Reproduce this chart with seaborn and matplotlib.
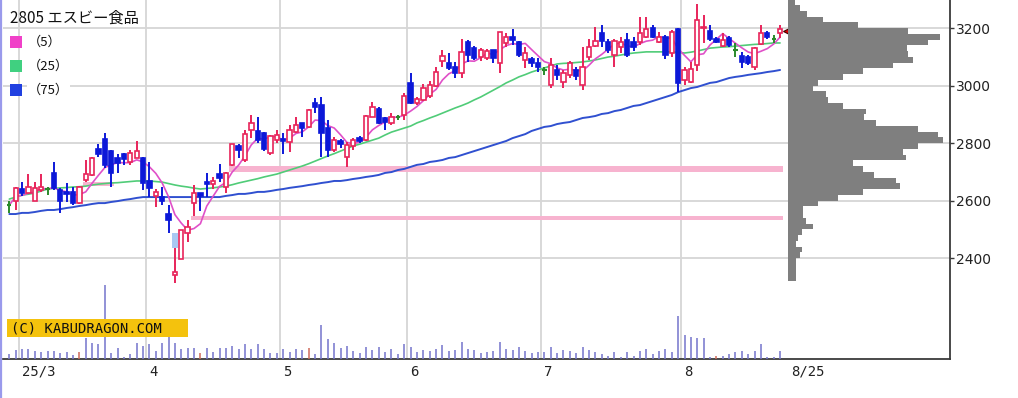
import numpy as np
import pandas as pd
import matplotlib
matplotlib.use("Agg")
import matplotlib.pyplot as plt
import seaborn as sns
from matplotlib.patches import Rectangle
from matplotlib.lines import Line2D
from matplotlib.transforms import ScaledTranslation

# ---------------- data ----------------
title = "2805 エスビー食品"
legend_labels = ["（5）", "（25）", "（75）"]
month_labels = ["25/3", "4", "5", "6", "7", "8"]
month_start_idx = [2, 22, 43, 63, 84, 106]
last_label = "8/25"
price_ticks = [2400, 2600, 2800, 3000, 3200]

opens = [2584, 2598, 2640, 2626, 2598, 2637, 2640, 2696, 2637, 2630,
         2630, 2591, 2671, 2689, 2779, 2814, 2772, 2748, 2762, 2734,
         2748, 2748, 2668, 2616, 2612, 2553, 2340, 2397, 2487, 2591,
         2626, 2664, 2657, 2692, 2647, 2722, 2790, 2741, 2845, 2842,
         2835, 2765, 2810, 2814, 2804, 2838, 2869, 2856, 2939, 2932,
         2852, 2776, 2807, 2751, 2790, 2817, 2810, 2890, 2918, 2887,
         2869, 2890, 2897, 3009, 2939, 2950, 2963, 2998, 3085, 3078,
         3064, 3043, 3151, 3130, 3099, 3096, 3123, 3078, 3148, 3169,
         3151, 3089, 3092, 3078, 3054, 3002, 3054, 3012, 3037, 3054,
         3002, 3099, 3137, 3183, 3151, 3106, 3134, 3158, 3151, 3151,
         3169, 3200, 3151, 3169, 3113, 3197, 3019, 3012, 3071, 3200,
         3190, 3162, 3137, 3165, 3123, 3103, 3099, 3064, 3144, 3183,
         3162, 3183]
highs = [2600, 2647, 2664, 2692, 2664, 2692, 2647, 2734, 2644, 2661,
         2647, 2650, 2741, 2751, 2797, 2835, 2776, 2762, 2765, 2776,
         2807, 2751, 2734, 2640, 2647, 2584, 2435, 2497, 2532, 2654,
         2626, 2696, 2682, 2727, 2699, 2797, 2797, 2845, 2897, 2890,
         2838, 2828, 2845, 2835, 2862, 2890, 2869, 2918, 2957, 2960,
         2880, 2821, 2814, 2804, 2817, 2824, 2897, 2943, 2925, 2890,
         2904, 2897, 2974, 3043, 2960, 3005, 3016, 3064, 3123, 3113,
         3082, 3162, 3158, 3137, 3130, 3127, 3123, 3186, 3183, 3197,
         3155, 3134, 3099, 3096, 3064, 3096, 3071, 3054, 3085, 3064,
         3134, 3162, 3204, 3210, 3162, 3162, 3169, 3183, 3169, 3238,
         3238, 3210, 3186, 3176, 3193, 3200, 3064, 3082, 3283, 3245,
         3210, 3169, 3183, 3172, 3148, 3116, 3106, 3134, 3210, 3190,
         3176, 3210]
lows = [2557, 2567, 2616, 2626, 2598, 2630, 2619, 2637, 2557, 2595,
        2584, 2588, 2664, 2686, 2751, 2713, 2648, 2696, 2724, 2724,
        2748, 2637, 2612, 2577, 2584, 2486, 2313, 2397, 2456, 2546,
        2564, 2612, 2640, 2664, 2626, 2720, 2748, 2734, 2817, 2800,
        2772, 2758, 2800, 2762, 2769, 2835, 2821, 2852, 2904, 2751,
        2751, 2769, 2783, 2717, 2776, 2800, 2807, 2890, 2866, 2845,
        2862, 2880, 2880, 2936, 2932, 2946, 2956, 2995, 3064, 3054,
        3026, 3026, 3082, 3089, 3085, 3089, 3078, 3043, 3134, 3141,
        3099, 3061, 3064, 3047, 3037, 2991, 3019, 2991, 3026, 3019,
        2984, 3089, 3134, 3134, 3113, 3064, 3113, 3099, 3120, 3141,
        3165, 3165, 3148, 3092, 3099, 2977, 3002, 3009, 3050, 3148,
        3155, 3148, 3134, 3134, 3099, 3061, 3071, 3054, 3141, 3162,
        3148, 3165]
closes = [2584, 2644, 2626, 2647, 2644, 2647, 2640, 2644, 2598, 2623,
          2591, 2647, 2692, 2748, 2762, 2724, 2696, 2730, 2744, 2765,
          2772, 2661, 2644, 2630, 2598, 2532, 2350, 2497, 2508, 2626,
          2616, 2657, 2668, 2678, 2696, 2797, 2776, 2831, 2869, 2810,
          2779, 2824, 2828, 2807, 2845, 2862, 2852, 2915, 2925, 2835,
          2776, 2810, 2797, 2793, 2810, 2807, 2894, 2925, 2869, 2873,
          2890, 2890, 2963, 2939, 2953, 2991, 3002, 3047, 3103, 3061,
          3043, 3116, 3106, 3096, 3123, 3120, 3096, 3186, 3169, 3158,
          3106, 3113, 3078, 3064, 3054, 3071, 3037, 3043, 3078, 3033,
          3064, 3134, 3155, 3155, 3123, 3155, 3151, 3106, 3134, 3183,
          3197, 3169, 3169, 3106, 3186, 3009, 3054, 3057, 3228, 3204,
          3162, 3151, 3158, 3141, 3123, 3082, 3078, 3130, 3183, 3169,
          3162, 3197]
volume = [5, 9, 10, 10, 8, 7, 8, 8, 6, 7,
          4, 7, 21, 16, 15, 74, 6, 11, 2, 5,
          16, 13, 15, 8, 16, 22, 16, 10, 11, 11,
          6, 11, 7, 11, 11, 13, 10, 15, 10, 15,
          10, 6, 6, 10, 7, 10, 9, 11, 5, 34,
          20, 16, 11, 13, 8, 6, 12, 9, 12, 7,
          10, 5, 15, 12, 7, 9, 8, 10, 14, 8,
          9, 17, 10, 9, 6, 7, 8, 17, 10, 9,
          12, 8, 6, 7, 7, 12, 6, 9, 8, 6,
          12, 9, 7, 5, 3, 7, 2, 7, 3, 8,
          10, 5, 8, 10, 7, 43, 24, 22, 21, 21,
          2, 3, 3, 5, 7, 8, 5, 8, 15, 2,
          2, 8]
red_volume_idx = [11, 30, 47, 111]
ma25 = [2605, 2612, 2619, 2622, 2626, 2633, 2640, 2642, 2644, 2645,
        2647, 2648, 2650, 2654, 2657, 2659, 2661, 2662, 2664, 2666,
        2668, 2668, 2668, 2666, 2664, 2659, 2654, 2650, 2647, 2643,
        2640, 2642, 2644, 2647, 2650, 2655, 2661, 2666, 2671, 2676,
        2682, 2687, 2692, 2699, 2706, 2713, 2720, 2728, 2737, 2746,
        2755, 2763, 2772, 2781, 2790, 2796, 2803, 2810, 2817, 2828,
        2838, 2845, 2852, 2859, 2870, 2878, 2887, 2895, 2904, 2913,
        2922, 2930, 2939, 2950, 2960, 2972, 2984, 2996, 3009, 3019,
        3030, 3038, 3047, 3054, 3061, 3068, 3075, 3077, 3078, 3080,
        3082, 3085, 3089, 3094, 3099, 3102, 3106, 3110, 3113, 3115,
        3117, 3117, 3117, 3117, 3117, 3115, 3113, 3116, 3120, 3125,
        3130, 3132, 3134, 3135, 3137, 3139, 3141, 3143, 3144, 3146,
        3148, 3148]
ma75 = [2553, 2553, 2557, 2557, 2560, 2564, 2567, 2567, 2570, 2574,
        2577, 2581, 2584, 2588, 2591, 2591, 2595, 2598, 2602, 2605,
        2609, 2612, 2612, 2612, 2612, 2612, 2612, 2612, 2612, 2612,
        2612, 2612, 2612, 2612, 2616, 2619, 2623, 2623, 2626, 2630,
        2630, 2633, 2637, 2640, 2644, 2647, 2650, 2654, 2657, 2661,
        2664, 2668, 2668, 2671, 2675, 2678, 2682, 2685, 2689, 2696,
        2699, 2706, 2710, 2717, 2724, 2727, 2734, 2737, 2741, 2748,
        2751, 2758, 2765, 2772, 2779, 2786, 2793, 2800, 2807, 2817,
        2824, 2831, 2842, 2849, 2856, 2859, 2866, 2870, 2873, 2880,
        2887, 2890, 2894, 2901, 2904, 2911, 2915, 2922, 2929, 2932,
        2939, 2946, 2953, 2960, 2967, 2977, 2984, 2991, 2995, 3002,
        3009, 3012, 3019, 3026, 3030, 3033, 3037, 3040, 3043, 3047,
        3050, 3054]
# gap windows: (first index, last index, low price, high price)
gap_up_bands = [(12, 16, 2650, 2664), (29, 121, 2532, 2546), (35, 121, 2699, 2720)]
gap_down_boxes = [(26, 26, 2435, 2486)]
profile_lower = list(range(3280, 2300, -20))
profile_vals = [7, 12, 19, 35, 70, 120, 152, 140, 119, 120,
                125, 105, 75, 55, 30, 25, 38, 40, 55, 78,
                76, 88, 130, 150, 155, 130, 115, 118, 65, 75,
                86, 108, 112, 75, 50, 30, 15, 15, 18, 25,
                14, 10, 8, 14, 12, 8, 8, 8, 8]
last_price_mark = 3190

# ---------------- styling ----------------
sns.set_style("white")
plt.rcParams['font.family'] = ['DejaVu Sans', 'Noto Sans CJK JP']

C_UP = "#e8245a"
C_DN = "#0c18d8"
C_DOJI = "#2a8a2a"
C_MA5 = "#e050c8"
C_MA25 = "#50cc78"
C_MA75 = "#3050d0"
C_GRID = "#d6d6d6"

W, H = 1018, 398
fig = plt.figure(figsize=(W / 100, H / 100), dpi=100)
fig.patch.set_facecolor("white")

bottom_px = 359
ax_rect = [3 / W, (H - bottom_px) / H, 947 / W, bottom_px / H]
ax = fig.add_axes(ax_rect)
ax.set_facecolor("white")
x0, dx = 9.3, 6.37  # pixel of first candle and candle spacing (layout)
ax.set_xlim((3 - x0) / dx, (950 - x0) / dx)
ymin, ymax = 2048.8, 3297.4
ax.set_ylim(ymin, ymax)

n = len(closes)
idx = np.arange(n)

# volume (twin axis created first so that the price ticks stay on the right)
axv = ax.twinx()
axv.set_ylim(0, bottom_px)
vcols = ["#d06a5a" if i in red_volume_idx else "#7474cc" for i in range(n)]
axv.vlines(idx, 0, volume, colors=vcols, lw=1.1)
axv.axis("off")

# grid
bounds = [s - 0.5 for s in month_start_idx]
for b in bounds:
    ax.axvline(b, color=C_GRID, lw=1.3, zorder=0)
for p in price_ticks:
    ax.axhline(p, color=C_GRID, lw=1.3, zorder=0)

# gap windows
for a, b, lo, hi in gap_up_bands:
    ax.add_patch(Rectangle((a - 0.5, lo), b - a + 1, hi - lo, facecolor="#f7b3cf",
                           edgecolor="none", zorder=1))
for a, b, lo, hi in gap_down_boxes:
    ax.add_patch(Rectangle((a - 0.5, lo), b - a + 1, hi - lo, facecolor="#a9c8f2",
                           edgecolor="none", zorder=1))

# moving averages via seaborn
df = pd.DataFrame({"idx": idx, "close": closes, "ma25": ma25, "ma75": ma75})
df["ma5"] = df["close"].rolling(5, min_periods=1).mean()
sns.lineplot(data=df, x="idx", y="ma75", ax=ax, color=C_MA75, lw=1.4, zorder=2)
sns.lineplot(data=df, x="idx", y="ma25", ax=ax, color=C_MA25, lw=1.2, zorder=2)
sns.lineplot(data=df, x="idx", y="ma5", ax=ax, color=C_MA5, lw=1.2, zorder=2)

# candles
bw = 0.68
for i in range(n):
    o, h, l, c = opens[i], highs[i], lows[i], closes[i]
    if c > o:
        col = C_UP
    elif c < o:
        col = C_DN
    else:
        col = C_DOJI
    ax.vlines(i, l, h, color=col, lw=1.4, zorder=3)
    if c == o:
        ax.hlines(o, i - bw / 2, i + bw / 2, color=col, lw=1.5, zorder=4)
    else:
        face = "white" if c > o else col
        ax.add_patch(Rectangle((i - bw / 2, min(o, c)), bw, abs(c - o),
                               facecolor=face, edgecolor=col, lw=1.2, zorder=4))

# last price marker
ax.plot([n + 0.4], [last_price_mark], marker="<", ms=8, color="#e00000",
        mec="#400000", mew=0.8, zorder=6, clip_on=False)

# axes styling
for s in ["left", "top"]:
    ax.spines[s].set_visible(False)
for s in ["right", "bottom"]:
    ax.spines[s].set_color("#3a3a3a")
    ax.spines[s].set_linewidth(1.3)
ax.yaxis.tick_right()
ax.yaxis.set_label_position("right")
ax.set_yticks(price_ticks)
ax.set_yticklabels([str(p) for p in price_ticks], fontsize=10, color="#222222")
ax.tick_params(axis="y", which="both", left=False, labelleft=False, right=True,
               labelright=True, length=3, width=1, color="#3a3a3a", pad=1.5)
ax.set_xticks(bounds + [n + 0.2])
ax.set_xticklabels(month_labels + [last_label], fontsize=10, color="#222222",
                   family="DejaVu Sans Mono", ha="left")
ax.tick_params(axis="x", length=0, pad=4)
off = ScaledTranslation(3 / 100, 0, fig.dpi_scale_trans)
for lbl in ax.get_xticklabels():
    lbl.set_transform(lbl.get_transform() + off)
ax.set_xlabel("")
ax.set_ylabel("")

# volume profile
axp = fig.add_axes([788 / W, (H - bottom_px) / H, 162 / W, bottom_px / H])
axp.set_ylim(ymin, ymax)
axp.set_xlim(0, 162)
axp.barh(profile_lower, profile_vals, height=20, align="edge", color="#7f7f7f", lw=0)
axp.axis("off")
axp.patch.set_alpha(0)

# title & legend
fig.text(10 / W, 1 - 18 / H, title, fontsize=11, va="center", ha="left",
         family=["Noto Sans CJK JP", "DejaVu Sans"], color="#111111")
leg_cols = ["#f040c8", "#40d080", "#2040e0"]
leg_y = [42, 66, 90]
for col, yy, lab in zip(leg_cols, leg_y, legend_labels):
    fig.add_artist(Rectangle((10 / W, 1 - (yy + 6) / H), 12 / W, 12 / H,
                             transform=fig.transFigure, facecolor=col, edgecolor="none"))
    fig.text(28 / W, 1 - yy / H, lab, fontsize=9.5, va="center", ha="left",
             family=["Noto Sans CJK JP", "DejaVu Sans"], color="#111111",
             bbox=dict(facecolor="white", edgecolor="none", pad=0.5))

# copyright badge
fig.add_artist(Rectangle((7 / W, 1 - 337 / H), 181 / W, 18 / H, transform=fig.transFigure,
                         facecolor="#f4c20d", edgecolor="none", zorder=5))
fig.text(11 / W, 1 - 328 / H, "(C) KABUDRAGON.COM", fontsize=10, va="center", ha="left",
         family="DejaVu Sans Mono", color="#111111", zorder=6)

# left border
fig.add_artist(Line2D([1 / W, 1 / W], [0, 1], color="#9a9aec", lw=1.6,
                      transform=fig.transFigure))

fig.savefig("out.png", dpi=100)
